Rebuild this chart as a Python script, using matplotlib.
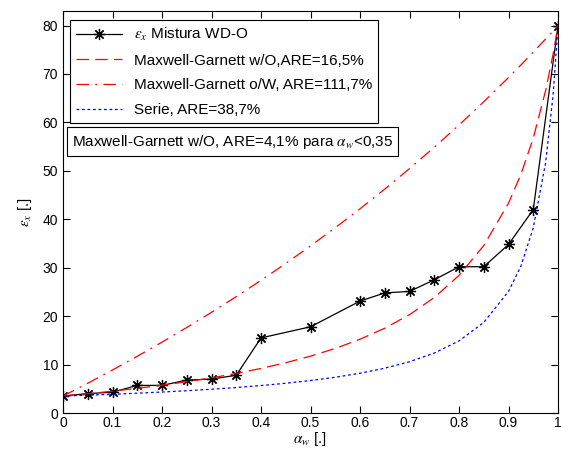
import matplotlib
matplotlib.use("Agg")
import matplotlib.pyplot as plt

plt.rcParams['font.family'] = ['Liberation Sans', 'DejaVu Sans']
plt.rcParams['mathtext.fontset'] = 'stix'

# measured points (water fraction vs permittivity)
alpha_meas = [0, 0.05, 0.1, 0.15, 0.2, 0.25, 0.3, 0.35, 0.4, 0.5,
              0.6, 0.65, 0.7, 0.75, 0.8, 0.85, 0.9, 0.95, 1.0]
eps_meas = [3.5, 4.0, 4.3, 5.7, 5.7, 6.8, 7.0, 7.8, 15.5, 17.8,
            23.1, 24.8, 25.1, 27.5, 30.2, 30.2, 34.8, 42.0, 80.0]

# model curves
alpha_model = [0, 0.05, 0.1, 0.15, 0.2, 0.25, 0.3, 0.35, 0.4, 0.45, 0.5,
               0.55, 0.6, 0.65, 0.7, 0.75, 0.8, 0.85, 0.9, 0.925, 0.95,
               0.975, 0.99, 1.0]
mg_wo = [3.5, 3.98, 4.51, 5.10, 5.74, 6.46, 7.26, 8.17, 9.20, 10.38, 11.74,
         13.33, 15.23, 17.51, 20.31, 23.84, 28.41, 34.57, 43.33, 49.26, 56.77,
         66.60, 74.09, 80.0]
mg_ow = [3.5, 6.15, 8.88, 11.71, 14.63, 17.66, 20.79, 24.03, 27.39, 30.88, 34.50,
         38.26, 42.16, 46.23, 50.46, 54.87, 59.46, 64.26, 69.27, 71.86, 74.51,
         77.23, 78.88, 80.0]
serie = [3.5, 3.68, 3.87, 4.09, 4.33, 4.60, 4.91, 5.26, 5.67, 6.14, 6.71,
         7.38, 8.21, 9.25, 10.59, 12.38, 14.89, 18.70, 25.11, 30.31, 38.23,
         51.73, 65.65, 80.0]

fig = plt.figure(figsize=(5.61, 4.5), dpi=100)
ax = fig.add_axes([0.1123, 0.0822, 0.8824, 0.8934])

ax.plot(alpha_meas, eps_meas, color='k', lw=0.9, marker=(8, 2, 0),
        markersize=8, markeredgewidth=0.9, label=r'$\varepsilon_x$ Mistura WD-O')
ax.plot(alpha_model, mg_wo, color='r', lw=0.9, dashes=(10, 5),
        label='Maxwell-Garnett w/O,ARE=16,5%')
ax.plot(alpha_model, mg_ow, color='r', lw=0.9, dashes=(10, 5, 1.5, 5),
        label='Maxwell-Garnett o/W, ARE=111,7%')
ax.plot(alpha_model, serie, color='b', lw=0.9, dashes=(2.2, 2.2),
        label='Serie, ARE=38,7%')

ax.set_xlim(0, 1)
ax.set_ylim(0, 83)
ax.set_xticks([i / 10 for i in range(11)])
ax.set_xticklabels(['0', '0.1', '0.2', '0.3', '0.4', '0.5', '0.6', '0.7', '0.8', '0.9', '1'])
ax.set_yticks(range(0, 81, 10))
ax.tick_params(direction='in', top=True, right=True, labelsize=10, length=5, width=0.8)
ax.tick_params(axis='x', pad=2)
for s in ax.spines.values():
    s.set_linewidth(0.8)

ax.set_xlabel(r'$\alpha_w$ [.]', fontsize=11, labelpad=0)
ax.set_ylabel(r'$\varepsilon_x$ [.]', fontsize=11, labelpad=6)

leg = ax.legend(loc='upper left', bbox_to_anchor=(0.014, 0.978), borderaxespad=0,
                fontsize=11, handlelength=3.0, labelspacing=0.7, fancybox=False,
                edgecolor='k', framealpha=1)
leg.get_frame().set_linewidth(0.8)

ax.text(0.018, 0.675, r'Maxwell-Garnett w/O, ARE=4,1% para $\alpha_w$<0,35',
        transform=ax.transAxes, fontsize=11, va='center', ha='left',
        bbox=dict(boxstyle='square,pad=0.35', fc='white', ec='k', lw=0.8))

fig.savefig('out.png', dpi=100)
